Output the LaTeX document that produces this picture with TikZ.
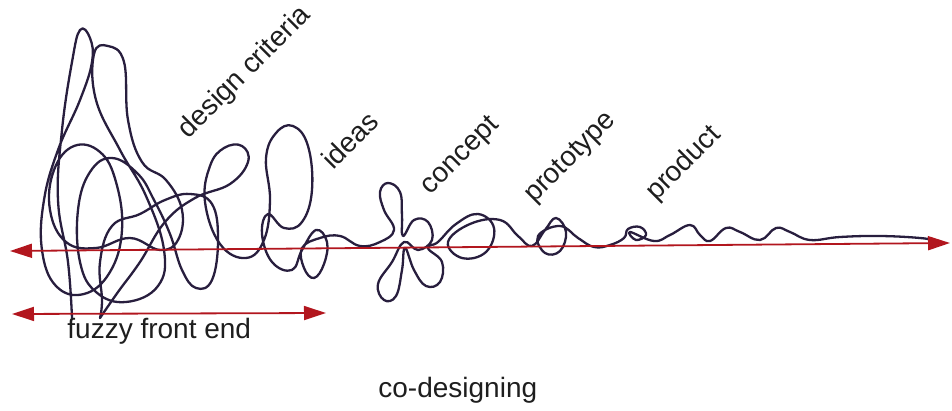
\documentclass[tikz,border=0pt]{standalone}
\usepackage{fontspec}
\setmainfont{Liberation Sans}
\usepackage{xcolor}
\usepackage{tikz}
\usetikzlibrary{arrows.meta}
\definecolor{InkDark}{RGB}{40,30,62}
\definecolor{ArrowRed}{RGB}{178,22,30}
\definecolor{TextGray}{RGB}{30,30,30}

\begin{document}
\begin{tikzpicture}[
  x=0.5pt, y=-0.5pt,
  ink/.style={draw=InkDark, line width=1.15pt, line join=round, line cap=round},
  redarr/.style={draw=ArrowRed, line width=0.9pt,
    {Triangle[length=11pt,width=7pt]}-{Triangle[length=11pt,width=7pt]}},
  stage/.style={anchor=base west, rotate=45, inner sep=0pt, text=TextGray,
    font=\fontsize{14}{16}\selectfont},
  caption/.style={anchor=base west, inner sep=0pt, text=TextGray,
    font=\fontsize{14}{16}\selectfont},
]
  \useasboundingbox (0,0) rectangle (952,411);

  % ========== squiggle: fuzzy tangle -> loops -> calm line ==========
  \draw[ink] plot[smooth, tension=0.7] coordinates {
    (72,318) (68,262) (58,200) (62,130) (72,62) (80,30) (90,38) (92,62)
    (80,100) (58,150) (44,200) (42,250) (56,286) (84,294) (110,272)
    (122,230) (116,182) (100,152) (74,146) (54,170) (50,210) (66,242)
    (96,248) (130,238) (160,250) (178,240) (182,210) (166,180) (142,162)
    (128,120) (124,62) (108,46) (94,54) (96,100) (120,150) (146,196)
    (164,250) (158,286) (126,302) (96,292) (80,262) (78,210) (90,172)
    (112,158) (138,174) (154,200) (170,234) (182,270) (196,288) (212,280)
    (218,240) (212,204) (190,194) (165,200) (140,214) (112,226) (100,262)
    (102,300) (100,318)
  };
  \draw[ink] plot[smooth, tension=0.7] coordinates {
    (100,318) (118,292) (140,262) (165,222) (195,198) (230,184) (248,162)
    (242,146) (224,148) (210,166) (205,202) (220,244) (246,258) (264,240)
    (270,200) (266,158) (276,133) (293,126) (308,146) (312,190) (302,222)
    (284,228) (268,214) (262,234) (272,262) (292,270) (302,250) (316,230)
    (327,242) (324,264) (314,278) (304,268) (302,248) (320,238) (340,236)
    (360,246) (380,242) (394,230) (384,210) (380,192) (388,183) (400,192)
    (402,216) (403,236) (414,220) (428,222) (432,240) (418,250) (404,242)
    (392,262) (378,284) (384,300) (396,296) (402,270) (405,248) (414,270)
    (426,286) (440,282) (442,262) (428,248) (438,242) (456,224) (478,214)
    (494,228) (486,252) (462,258) (448,242) (470,224) (500,220) (518,236)
    (532,246) (545,230) (556,218) (566,232) (560,251) (545,253) (538,236)
    (560,226) (578,238) (594,247) (610,245) (624,238) (628,229) (640,227)
    (646,235) (636,240) (630,232) (654,241) (670,235) (690,225) (700,235)
    (710,241) (726,228) (740,232) (760,240) (776,228) (790,232) (810,240)
    (840,237) (880,236) (920,238) (938,241)
  };

  % ========== red axes ==========
  \coordinate (mainL) at (10,251);
  \coordinate (mainR) at (950,243);
  \coordinate (fuzL) at (12,314);
  \coordinate (fuzR) at (326,313);
  \draw[redarr] (mainL) -- (mainR);
  \draw[redarr] (fuzL) -- (fuzR);

  % ========== labels ==========
  \node[stage] (crit) at (188,140) {design criteria};
  \node[stage] (ideas) at (333,171) {ideas};
  \node[stage] (concept) at (430,196) {concept};
  \node[stage] (proto) at (534,204) {prototype};
  \node[stage] (prod) at (656,202) {product};
  \node[caption] (fuzzy) at (67,338) {fuzzy front end};
  \node[caption] (codes) at (378,397) {co-designing};

\end{tikzpicture}
\end{document}
